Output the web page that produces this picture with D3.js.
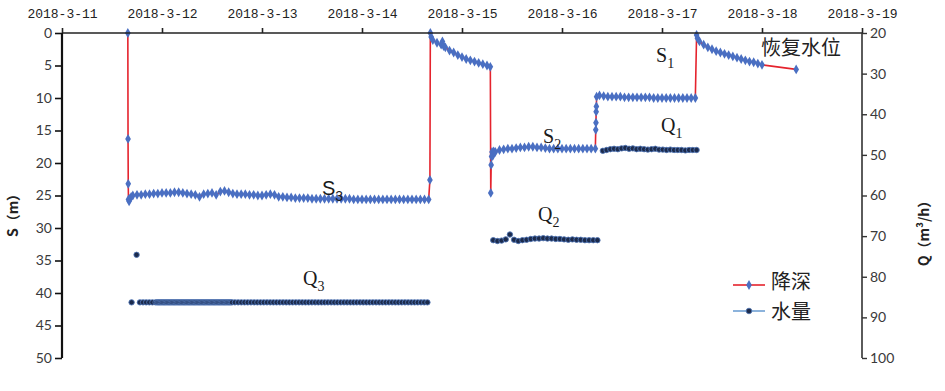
<!DOCTYPE html>
<html><head><meta charset="utf-8">
<script src="https://cdn.jsdelivr.net/npm/d3@7"></script>
<style>
html,body{margin:0;padding:0;background:#fff;}
svg{display:block;}
</style></head>
<body>
<svg id="c" width="945" height="391"></svg>
<script>
// ---------- DATA (hours are counted from 2018-03-11 00:00) ----------
const dateLabels = ["2018-3-11","2018-3-12","2018-3-13","2018-3-14","2018-3-15","2018-3-16","2018-3-17","2018-3-18","2018-3-19"];
const sTicks = [0,5,10,15,20,25,30,35,40,45,50];
const qTicks = [20,30,40,50,60,70,80,90,100];

// drawdown S (m): start of pumping stage 3
const s3Onset = [[15.8,0],[15.85,16.3],[15.9,23.2],[15.95,25.6],[16.1,25.9],[16.3,25.5],[16.6,25.2]];
const s3Start = 17, s3Step = 1;
const s3Depth = [25.0,24.9,24.9,24.8,24.8,24.7,24.7,24.6,24.6,24.6,24.5,24.5,24.6,24.7,24.8,24.9,25.2,24.8,24.7,24.6,24.9,24.4,24.3,24.5,24.7,24.8,24.8,24.8,24.9,24.9,25.0,25.0,24.9,24.8,24.9,25.2,25.2,25.3,25.3,25.4,25.4,25.4,25.4,25.5,25.5,25.5,25.5,25.5,25.5,25.5,25.5,25.5,25.5,25.6,25.6,25.6,25.6,25.6,25.6,25.6,25.6,25.6,25.6,25.6,25.6,25.6,25.6,25.6,25.6,25.6,25.6,25.6];
// interval between stage 3 and stage 2
const sBetween = [[88.3,22.6],[88.4,0.0],[88.6,0.6],[89,1.1],[90,1.5],[91,1.8],[91.3,1.3],[91.6,2.0],[92,2.2],[93,2.7],[94,3.0],[95,3.4],[96,3.7],[97,4.0],[98,4.2],[99,4.4],[100,4.6],[101,4.8],[102,5.0],[102.8,5.2]];
// stage 2
const s2Onset = [[102.9,24.6],[103.0,20.3],[103.1,19.0],[103.2,18.3],[103.4,18.9],[103.6,18.2]];
const s2Start = 104, s2Step = 1;
const s2Depth = [18.3,18.0,17.9,17.8,17.8,17.7,17.6,17.6,17.5,17.5,17.6,17.6,17.7,17.8,17.8,17.8,17.8,17.8,17.8,17.8,17.8,17.8,17.8,17.8,17.8];
// stage 1
const s1Onset = [[128.1,14.9],[128.15,13.8],[128.2,12.1],[128.25,11.3],[128.3,9.8]];
const s1Start = 129, s1Step = 1;
const s1Depth = [9.6,9.7,9.8,9.8,9.8,9.8,9.9,9.9,9.9,9.9,9.9,9.9,9.9,10.0,10.0,10.0,10.0,10.0,10.0,10.0,10.0,10.0,10.0,10.0];
// recovery
const sRecovery = [[152.3,0.3],[152.5,0.8],[153,1.3],[154,1.8],[155,2.2],[156,2.5],[157,2.8],[158,3.0],[159,3.2],[160,3.4],[161,3.6],[162,3.8],[163,4.0],[164,4.2],[165,4.4],[166,4.5],[167,4.7],[168,4.9],[176.2,5.6]];

// discharge Q (m3/h)
const q3Extra = [[16.7,86.3],[17.9,74.6]];
const q3Runs = [[18.7,22.6,0.75,86.3],[22.8,40.8,0.3,86.3],[41.5,88.3,0.77,86.3]]; // [from, to, every, Q]
const q2Start = 103.5, q2Step = 1;
const q2Flow = [71.0,71.2,71.1,70.8,69.6,70.9,71.2,71.0,70.9,70.7,70.6,70.6,70.5,70.6,70.6,70.7,70.7,70.8,70.9,70.8,70.9,70.9,71.0,71.0,71.0,71.0];
const q1Start = 129.8, q1Step = 0.9;
const q1Flow = [49.0,48.8,48.6,48.5,48.6,48.4,48.3,48.5,48.4,48.6,48.5,48.6,48.7,48.6,48.5,48.7,48.7,48.8,48.7,48.8,48.8,48.8,48.9,48.8,48.8,48.8];

// ---------- BUILD ----------
const base = new Date(2018,2,11,0,0,0);
const T = h => new Date(base.getTime() + h*3600e3);
const fromList = (start, step, vals) => vals.map((v,i)=>[start+i*step, v]);

const sSeries = [].concat(
  s3Onset, fromList(s3Start,s3Step,s3Depth), sBetween,
  s2Onset, fromList(s2Start,s2Step,s2Depth),
  s1Onset, fromList(s1Start,s1Step,s1Depth), sRecovery
);
let qSeries = [].concat(q3Extra);
q3Runs.forEach(([a,b,st,q])=>{ for(let h=a; h<=b+1e-9; h+=st) qSeries.push([h,q]); });
qSeries = qSeries.concat(fromList(q2Start,q2Step,q2Flow), fromList(q1Start,q1Step,q1Flow));

const svg = d3.select("#c");
const x = d3.scaleTime().domain([new Date(2018,2,11), new Date(2018,2,19)]).range([62,862]);
const yS = d3.scaleLinear().domain([0,50]).range([33,358]);
const yQ = d3.scaleLinear().domain([20,100]).range([33,358]);

const RED = "#e5232d", BLUE = "#4a6fc2";

// Q markers
svg.append("g").selectAll("circle").data(qSeries).join("circle")
  .attr("cx", d=>x(T(d[0]))).attr("cy", d=>yQ(d[1])).attr("r", 2.7)
  .attr("fill", "#1c2b4c").attr("stroke", "#4f74b3").attr("stroke-width", 0.9);

// S line
svg.append("path").datum(sSeries)
  .attr("d", d3.line().x(d=>x(T(d[0]))).y(d=>yS(d[1])))
  .attr("fill","none").attr("stroke",RED).attr("stroke-width",1.6);
// S markers
const diamond = d3.symbol(d3.symbolDiamond, 28)();
svg.append("g").selectAll("path").data(sSeries).join("path")
  .attr("d", diamond)
  .attr("transform", d=>`translate(${x(T(d[0]))},${yS(d[1])})`)
  .attr("fill", BLUE);

// Axes
const axTop = svg.append("g").attr("transform","translate(0,33)")
  .call(d3.axisTop(x).ticks(d3.timeDay.every(1)).tickSize(5).tickFormat((d,i)=>dateLabels[i]));
axTop.select(".domain").attr("stroke","#222").attr("stroke-width",1.6).attr("d","M62,0H862");
axTop.selectAll(".tick line").attr("stroke","#222").attr("stroke-width",1.6);
axTop.selectAll(".tick text").attr("y",-19).attr("dy","0.32em")
  .style("font-family","'Liberation Mono', monospace").style("font-size","13px").attr("fill","#222");

const axLeft = svg.append("g").attr("transform","translate(62,0)")
  .call(d3.axisLeft(yS).tickValues(sTicks).tickSize(7).tickPadding(3));
axLeft.select(".domain").attr("stroke","#111").attr("stroke-width",2.2).attr("d","M0,33V358");
axLeft.selectAll(".tick line").attr("stroke","#111").attr("stroke-width",1.6);
axLeft.selectAll(".tick text").style("font-family","Lato, sans-serif").style("font-size","14px").attr("fill","#3a3a3a");

const axRight = svg.append("g").attr("transform","translate(862,0)")
  .call(d3.axisRight(yQ).tickValues(qTicks).tickSize(5).tickPadding(3));
axRight.select(".domain").attr("stroke","#333").attr("stroke-width",1.6).attr("d","M0,33V358");
axRight.selectAll(".tick line").attr("stroke","#333").attr("stroke-width",1.4);
axRight.selectAll(".tick text").style("font-family","Lato, sans-serif").style("font-size","14px").attr("fill","#3a3a3a");

// Axis titles
svg.append("text").attr("transform","translate(18,212) rotate(-90)").attr("text-anchor","middle")
  .style("font-family","'Noto Sans CJK SC', sans-serif").style("font-weight","bold").style("font-size","14px").attr("fill","#222")
  .text("S（m）");
svg.append("text").attr("transform","translate(929,230) rotate(-90)").attr("text-anchor","middle")
  .style("font-family","'Noto Sans CJK SC', sans-serif").style("font-weight","bold").style("font-size","14px").attr("fill","#222")
  .text("Q（m³/h）");

// Annotations
function sub(xp, yp, main, s, fam, size){
  const t = svg.append("text").attr("x",xp).attr("y",yp)
    .style("font-family",fam).style("font-size",size+"px").attr("fill","#1a1a1a");
  t.append("tspan").text(main);
  t.append("tspan").attr("dy", size*0.28).style("font-size",(size*0.7)+"px").text(s);
}
const SERIF = "'Liberation Serif', 'DejaVu Serif', serif";
sub(322, 195, "S", "3", "'Liberation Sans', sans-serif", 20);
sub(543, 143, "S", "2", SERIF, 20);
sub(656, 62, "S", "1", SERIF, 20);
sub(661, 132, "Q", "1", SERIF, 20);
sub(538, 221, "Q", "2", SERIF, 20);
sub(303, 285, "Q", "3", SERIF, 20);
svg.append("text").attr("x",761).attr("y",55)
  .style("font-family","'Noto Sans CJK SC', sans-serif").style("font-size","20px").attr("fill","#222").text("恢复水位");

// Legend
const lg = svg.append("g");
lg.append("line").attr("x1",733).attr("x2",765).attr("y1",285).attr("y2",285).attr("stroke",RED).attr("stroke-width",1.6);
lg.append("path").attr("d",diamond).attr("transform","translate(749,285)").attr("fill",BLUE);
lg.append("line").attr("x1",733).attr("x2",765).attr("y1",311).attr("y2",311).attr("stroke","#6fa0d4").attr("stroke-width",1.6);
lg.append("circle").attr("cx",749).attr("cy",311).attr("r",2.8).attr("fill","#1c2b4c").attr("stroke","#4f74b3").attr("stroke-width",0.8);
lg.append("text").attr("x",771).attr("y",289).style("font-family","'Noto Sans CJK SC', sans-serif").style("font-size","20px").attr("fill","#222").text("降深");
lg.append("text").attr("x",771).attr("y",319).style("font-family","'Noto Sans CJK SC', sans-serif").style("font-size","20px").attr("fill","#222").text("水量");
</script>
</body></html>
